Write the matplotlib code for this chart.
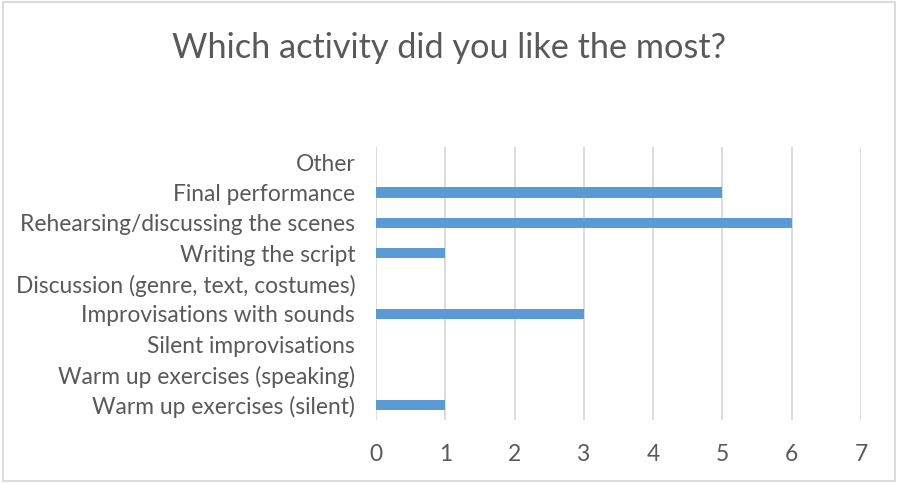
import matplotlib
matplotlib.use("Agg")
import matplotlib.pyplot as plt
from matplotlib.patches import Rectangle

activities = [
    "Warm up exercises (silent)",
    "Warm up exercises (speaking)",
    "Silent improvisations",
    "Improvisations with sounds",
    "Discussion (genre, text, costumes)",
    "Writing the script",
    "Rehearsing/discussing the scenes",
    "Final performance",
    "Other",
]
votes = [1, 0, 0, 3, 0, 1, 6, 5, 0]
x_ticks = [0, 1, 2, 3, 4, 5, 6, 7]

text_color = "#595959"
grid_color = "#d9d9d9"
bar_color = "#5b9bd5"

plt.rcParams["font.family"] = ["Lato", "DejaVu Sans"]

fig = plt.figure(figsize=(8.97, 4.83), dpi=100)
W, H = 897, 483
# plot area in pixels: x 376..861, y 147..420
ax = fig.add_axes([376 / W, 1 - 420 / H, (861 - 376) / W, (420 - 147) / H])

ax.barh(range(len(activities)), votes, height=0.35, color=bar_color, zorder=3)
ax.set_xlim(0, 7)
ax.set_ylim(-0.5, len(activities) - 0.5)
ax.set_xticks(x_ticks)
ax.set_yticks(range(len(activities)))
ax.set_yticklabels(activities)
ax.grid(axis="x", color=grid_color, linewidth=1.3, zorder=0)
for s in ax.spines.values():
    s.set_visible(False)
ax.tick_params(axis="both", length=0, labelsize=16.4, labelcolor=text_color)
ax.tick_params(axis="x", pad=17)
ax.tick_params(axis="y", pad=15)

fig.text(0.5, 1 - 48 / H, "Which activity did you like the most?", ha="center", va="center",
         fontsize=24.7, color=text_color)

# chart border
fig.patches.append(Rectangle((3 / W, 2 / H), (895 - 3) / W, (481 - 2) / H, transform=fig.transFigure,
                             fill=False, edgecolor=grid_color, linewidth=1.3))

fig.savefig("out.png", dpi=100)
